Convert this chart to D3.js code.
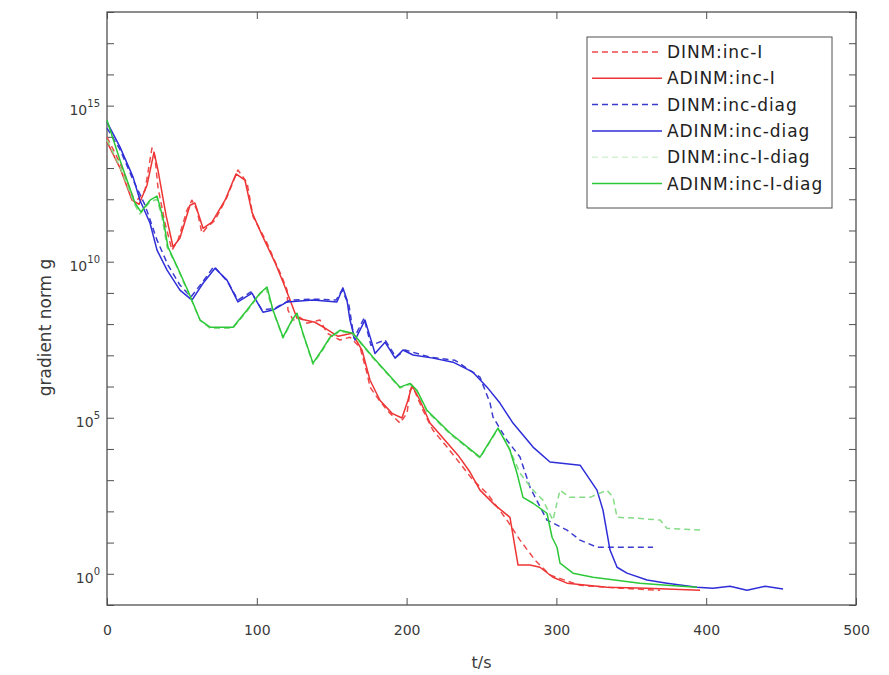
<!DOCTYPE html>
<html>
<head>
<meta charset="utf-8">
<script src="https://cdn.jsdelivr.net/npm/d3@7"></script>
<style>
  html, body { margin: 0; padding: 0; background: #fff; }
  svg { display: block; font-family: "DejaVu Sans", "Liberation Sans", Arial, sans-serif; }
</style>
</head>
<body>
<svg id="chart" width="889" height="675"></svg>
<script>
// Convergence histories: [time in s, log10 of gradient norm]
const dinmIncI = [
  [0,13.99],[8.7,13.16],[17.4,12.07],[20.7,12.0],[25.4,12.29],[30.0,13.64],[32.0,13.35],[34.0,12.39],
  [38.7,11.24],[43.4,10.37],[47.4,10.69],[53.4,11.65],[56.7,11.97],[60.1,11.65],[63.4,10.91],[66.8,11.1],
  [72.1,11.33],[80.1,12.07],[87.4,12.94],[93.5,12.53],[97.5,11.44],[102.1,11.03],[106.8,10.6],[110.8,10.15],
  [116.8,9.51],[120.2,9.09],[120.8,8.45],[124.2,8.13],[128.8,8.22],[133.5,8.03],[142.2,8.13],[146.9,7.71],
  [155.5,7.49],[162.2,7.58],[168.9,7.26],[173.6,6.42],[175.6,5.98],[180.2,5.66],[186.9,5.24],[195.6,4.83],
  [200.3,5.15],[202.3,5.88],[204.3,5.98],[210.9,5.24],[217.6,4.6],[227,4.06],[235.6,3.54],[244.3,3.0],
  [253.7,2.58],[267,1.72],[275.7,1.08],[285.7,0.44],[295.7,-0.04],[315.8,-0.37],[342.5,-0.46],[369.2,-0.53]
];
const adinmIncI = [
  [0,13.84],[8.7,13.0],[16.7,11.97],[21.4,11.84],[26.7,12.45],[31.4,13.51],[34,12.94],[39.4,11.49],
  [44.1,10.47],[48.7,10.76],[55.4,11.81],[58.7,11.88],[64.1,11.07],[70.1,11.27],[78.8,11.97],[86.1,12.81],
  [92.1,12.61],[96.8,11.58],[103.5,10.85],[112.1,9.98],[117.5,9.35],[122.2,8.77],[126.8,8.19],[132.2,8.13],
  [138.8,8.06],[145.5,7.87],[154.2,7.61],[163.6,7.71],[170.2,7.17],[175.6,6.2],[182.2,5.56],[190.3,5.14],
  [196.9,4.99],[200.9,5.56],[203.6,6.04],[208.9,5.56],[215.6,4.83],[225.6,4.28],[234.3,3.8],[242.3,3.26],
  [249,2.68],[259,2.2],[269,1.81],[274.4,0.28],[282.4,0.28],[289,0.21],[297.7,-0.11],[307.1,-0.3],
  [333.8,-0.43],[360.5,-0.46],[395.9,-0.53]
];
const dinmIncDiag = [
  [0,14.28],[8.7,13.59],[17.4,12.62],[25.4,11.81],[33.4,10.69],[40.7,9.89],[48.7,9.25],[56.1,8.87],
  [64.1,9.37],[71.4,9.85],[80.8,9.34],[87.4,8.77],[96.1,9.03],[103.5,8.45],[112.1,8.51],[122.2,8.77],
  [138.8,8.8],[152.9,8.77],[156.9,9.09],[161.5,8.61],[164.9,7.55],[171.6,8.19],[176.2,7.32],[185.6,7.49],
  [192.9,6.94],[198.9,7.17],[215.6,6.94],[232.3,6.84],[249,6.3],[255.7,5.47],[257.7,5.02],[267,4.28],
  [275.7,3.74],[282.4,2.77],[293.7,1.72],[307.1,1.4],[315.8,1.08],[327.1,0.85],[345.8,0.85],[364.5,0.85]
];
const adinmIncDiag = [
  [0,14.47],[8.7,13.67],[17.4,12.71],[22,11.97],[28.7,11.24],[33.4,10.37],[40.1,9.73],[48.7,9.09],
  [56.7,8.77],[64.1,9.31],[72.1,9.79],[80.1,9.41],[87.4,8.71],[96.8,8.99],[104.1,8.38],[110.8,8.45],
  [120.2,8.71],[137.5,8.77],[153.5,8.71],[157.5,9.16],[160.2,8.77],[162.2,8.13],[165.6,7.49],[172.2,8.13],
  [176.9,7.39],[178.9,7.06],[185.6,7.42],[192.3,6.91],[197.6,7.17],[204.3,7.01],[217.6,6.91],[231,6.78],
  [244.3,6.46],[253.7,5.98],[262.3,5.47],[271,4.83],[284.4,4.06],[295.7,3.58],[315.8,3.48],[327.1,2.68],
  [331.1,2.04],[335.8,0.76],[340.5,0.21],[347.1,0.02],[360.5,-0.2],[373.8,-0.3],[393.9,-0.43],[404.5,-0.46],
  [415.9,-0.4],[427.2,-0.53],[439.3,-0.4],[451.3,-0.49]
];
const dinmIncIDiag = [
  [0,13.9],[8.7,13.03],[18.7,11.81],[22,11.53],[28.7,11.91],[33.4,12.0],[36.7,11.43],[40.1,10.47],
  [46.7,9.83],[53.4,9.09],[62.1,8.13],[68.8,7.87],[84.1,7.87],[93.5,8.42],[102.1,8.96],[106.1,9.15],
  [110.8,8.42],[117.5,7.55],[123.5,8.1],[126.8,8.32],[130.8,7.68],[137.5,6.71],[143.5,7.13],[148.9,7.55],
  [155.5,7.77],[164.2,7.68],[177.6,6.91],[195.6,5.95],[202.3,6.07],[206.9,5.85],[213.6,5.2],[229,4.48],
  [249,3.71],[261,4.64],[267,4.19],[275.7,3.22],[284.4,2.68],[291,2.36],[297.7,1.72],[302.4,2.68],
  [309.1,2.45],[322.4,2.45],[333.8,2.68],[337.8,2.45],[340.5,1.81],[353.8,1.78],[369.2,1.72],[373.8,1.46],
  [395.9,1.4]
];
const adinmIncIDiag = [
  [0,14.53],[8.7,13.25],[18.7,11.88],[22.7,11.59],[28.7,11.97],[33.4,12.1],[37.4,11.4],[40.7,10.47],
  [47.4,9.78],[54.1,9.06],[62.1,8.13],[68.8,7.9],[84.1,7.9],[93.5,8.45],[102.1,8.99],[106.8,9.19],
  [110.8,8.45],[117.5,7.58],[123.5,8.13],[126.8,8.35],[130.8,7.71],[137.5,6.75],[143.5,7.17],[148.9,7.58],
  [155.5,7.8],[164.2,7.71],[177.6,6.94],[195.6,5.98],[202.3,6.1],[206.9,5.88],[213.6,5.24],[229,4.51],
  [249,3.74],[261,4.67],[269,3.96],[273.7,3.22],[277.7,2.45],[284.4,2.26],[293.7,1.94],[297.1,1.17],
  [300.4,0.85],[302.4,0.34],[311.1,0.02],[324.4,-0.11],[355.8,-0.3],[373.8,-0.37],[393.9,-0.43]
];

const seriesNames = ["DINM:inc-I", "ADINM:inc-I", "DINM:inc-diag", "ADINM:inc-diag", "DINM:inc-I-diag", "ADINM:inc-I-diag"];
const seriesData = [dinmIncI, adinmIncI, dinmIncDiag, adinmIncDiag, dinmIncIDiag, adinmIncIDiag];
const seriesColors = ["#ee4a4a", "#ee3434", "#3b3bd0", "#2e2ed8", "#86dc86", "#2cc838"];
const seriesDashed = [true, false, true, false, true, false];

const xTicks = [0, 100, 200, 300, 400, 500];
const yMajorExponents = [0, 5, 10, 15];
const xLabel = "t/s";
const yLabel = "gradient norm g";

const svg = d3.select("#chart");
const plotLeft = 107, plotRight = 856, plotTop = 12, plotBottom = 605;

const x = d3.scaleLinear().domain([0, 500]).range([plotLeft, plotRight]);
const y = d3.scaleLog().domain([1e-1, 1e18]).range([plotBottom, plotTop]);

const decades = d3.range(-1, 19).map(e => Math.pow(10, e));
const axisColor = "#505050";
const textColor = "#3a3a3a";

// frame
svg.append("rect")
  .attr("x", plotLeft).attr("y", plotTop)
  .attr("width", plotRight - plotLeft).attr("height", plotBottom - plotTop)
  .attr("fill", "#fff").attr("stroke", axisColor).attr("stroke-width", 1.3);

function styleAxis(g) {
  g.select(".domain").remove();
  g.selectAll(".tick line").attr("stroke", axisColor).attr("stroke-width", 1);
  g.selectAll(".tick text").attr("fill", textColor).attr("font-size", 14)
    .attr("font-family", "DejaVu Sans, sans-serif");
}

svg.append("g").attr("transform", `translate(0,${plotBottom})`)
  .call(d3.axisBottom(x).tickValues(xTicks).tickSizeInner(-7).tickSizeOuter(0).tickPadding(20).tickFormat(d3.format("d")))
  .call(styleAxis);
svg.append("g").attr("transform", `translate(0,${plotTop})`)
  .call(d3.axisTop(x).tickValues(xTicks).tickSizeInner(-7).tickSizeOuter(0).tickFormat(() => ""))
  .call(styleAxis);
svg.append("g").attr("transform", `translate(${plotLeft},0)`)
  .call(d3.axisLeft(y).tickValues(decades).tickSizeInner(-7).tickSizeOuter(0).tickFormat(() => ""))
  .call(styleAxis);
svg.append("g").attr("transform", `translate(${plotRight},0)`)
  .call(d3.axisRight(y).tickValues(decades).tickSizeInner(-7).tickSizeOuter(0).tickFormat(() => ""))
  .call(styleAxis);

// y tick labels as powers of ten
yMajorExponents.forEach(e => {
  const t = svg.append("text")
    .attr("x", 100).attr("y", y(Math.pow(10, e)) + 9)
    .attr("text-anchor", "end").attr("fill", textColor).attr("font-size", 14);
  t.append("tspan").text("10");
  t.append("tspan").attr("dy", -8).attr("font-size", 10).text(String(e));
});

// axis titles
svg.append("text")
  .attr("x", (plotLeft + plotRight) / 2).attr("y", 668)
  .attr("text-anchor", "middle").attr("fill", textColor).attr("font-size", 16)
  .text(xLabel);
svg.append("text")
  .attr("transform", `translate(51,${(plotTop + plotBottom) / 2 + 19}) rotate(-90)`)
  .attr("text-anchor", "middle").attr("fill", textColor).attr("font-size", 17)
  .text(yLabel);

// curves
const line = d3.line().x(d => x(d[0])).y(d => y(Math.pow(10, d[1])));
const plotArea = svg.append("g");
seriesData.forEach((data, i) => {
  plotArea.append("path")
    .datum(data)
    .attr("d", line)
    .attr("fill", "none")
    .attr("stroke", seriesColors[i])
    .attr("stroke-width", 1.5)
    .attr("stroke-linejoin", "round")
    .attr("stroke-dasharray", seriesDashed[i] ? "6,4" : null);
});

// legend
const legend = svg.append("g");
legend.append("rect")
  .attr("x", 587).attr("y", 37).attr("width", 245).attr("height", 171)
  .attr("fill", "#fff").attr("stroke", axisColor).attr("stroke-width", 1);
seriesNames.forEach((name, i) => {
  const ly = 52 + i * 26.3;
  legend.append("line")
    .attr("x1", 592).attr("x2", 662).attr("y1", ly).attr("y2", ly)
    .attr("stroke", i === 4 ? "#d4f2d4" : seriesColors[i])
    .attr("stroke-width", 1.5)
    .attr("stroke-dasharray", seriesDashed[i] ? "6,4" : null);
  legend.append("text")
    .attr("x", 667).attr("y", ly + 6)
    .attr("fill", "#222").attr("font-size", 17)
    .attr("letter-spacing", 0.9)
    .text(name);
});
</script>
</body>
</html>
